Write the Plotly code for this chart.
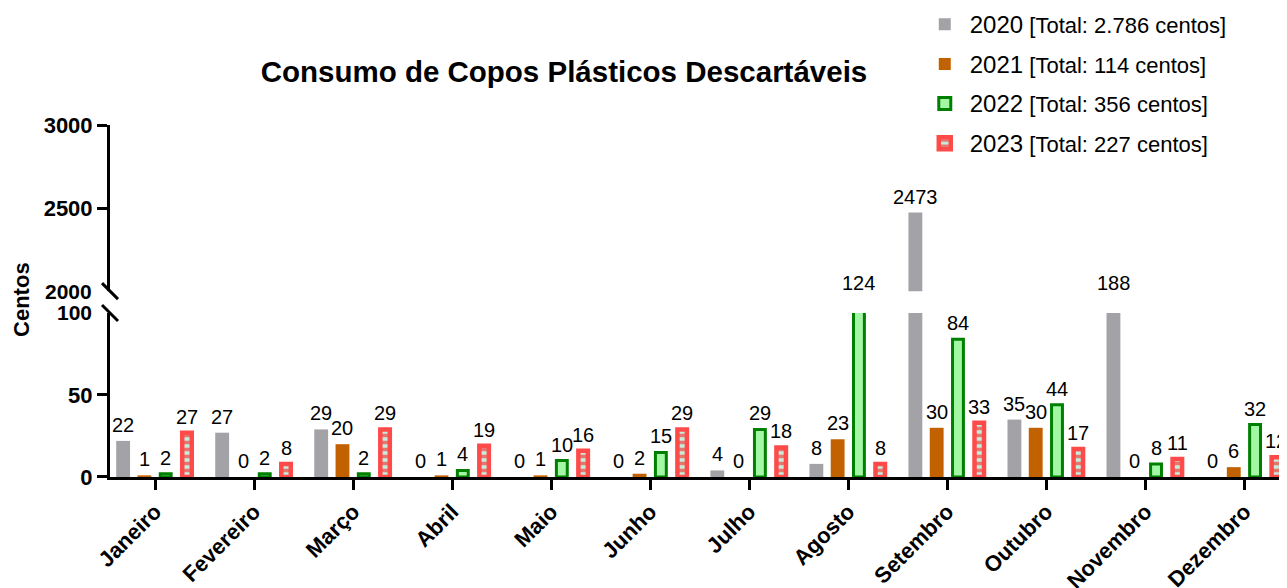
import plotly.graph_objects as go

months = ["Janeiro", "Fevereiro", "Março", "Abril", "Maio", "Junho",
          "Julho", "Agosto", "Setembro", "Outubro", "Novembro", "Dezembro"]
years = ["2020", "2021", "2022", "2023"]
v2020 = [22, 27, 29, 0, 0, 0, 4, 8, 2473, 35, 188, 0]
v2021 = [1, 0, 20, 1, 1, 2, 0, 23, 30, 30, 0, 6]
v2022 = [2, 2, 2, 4, 10, 15, 29, 124, 84, 44, 8, 32]
v2023 = [27, 8, 29, 19, 16, 29, 18, 8, 33, 17, 11, 12]
series = [v2020, v2021, v2022, v2023]

# axis break: lower 0-100, upper 2000-3000
LOW_MAX = 100
HIGH_MIN = 2000

FONT = "Arial, Liberation Sans, sans-serif"
styles = [
    dict(color="#A3A2A7", line=dict(width=0)),
    dict(color="#C26100", line=dict(width=0)),
    dict(color="#A4F7A4", line=dict(color="#008000", width=3)),
    dict(color="#FF4A4A", line=dict(color="#FF4A4A", width=4.5),
         pattern=dict(shape="-", fgcolor="#FF0000", bgcolor="#C4EEDD",
                      size=7, solidity=0.5)),
]
widths = [0.14, 0.14, 0.11, 0.096]
slot = 0.215

x = list(range(len(months)))
fig = go.Figure()
annotations = []
for k, (yr, vals) in enumerate(zip(years, series)):
    total = f"{sum(vals):,}".replace(",", ".")
    name = (f"<span style='font-size:24px'>{yr}</span> "
            f"[Total: {total} centos]")
    off = (k - 1.5) * slot - widths[k] / 2
    for yax, show in (("y", True), ("y2", False)):
        fig.add_trace(go.Bar(
            x=x, y=vals, name=name, xaxis="x", yaxis=yax,
            offset=off, width=widths[k], marker=styles[k],
            showlegend=show, legendgroup=yr, hoverinfo="skip",
        ))
    for i, v in enumerate(vals):
        xc = i + (k - 1.5) * slot
        if v <= LOW_MAX:
            yref, yv, shift = "y", v, 3
        elif v < HIGH_MIN:
            yref, yv, shift = "y", LOW_MAX, 17
        else:
            yref, yv, shift = "y2", v, 3
        annotations.append(dict(
            x=xc, y=yv, xref="x", yref=yref, text=str(v), showarrow=False,
            yanchor="bottom", yshift=shift, font=dict(size=20, color="black"),
        ))

low_top = 0.466
high_bot = 0.528

# break labels and y title
for yv, txt in ((low_top, "100"), (high_bot, "2000")):
    annotations.append(dict(
        x=0, y=yv, xref="paper", yref="paper", text=f"<b>{txt}</b>",
        showarrow=False, xanchor="right", yanchor="middle", xshift=-17,
        font=dict(size=21, color="black"), borderpad=0,
    ))
annotations.append(dict(
    x=0, y=0.503, xref="paper", yref="paper", text="<b>Centos</b>",
    showarrow=False, textangle=-90, xanchor="center", yanchor="middle",
    xshift=-88, font=dict(size=22, color="black"),
))

shapes = []
for yv in (low_top, high_bot):
    shapes.append(dict(
        type="line", xref="paper", yref="paper", xsizemode="pixel",
        ysizemode="pixel", xanchor=0, yanchor=yv,
        x0=-8, y0=8, x1=8, y1=-8, line=dict(color="black", width=3),
    ))

axis_common = dict(
    showline=True, linewidth=3, linecolor="black", showgrid=False,
    zeroline=False, ticks="outside", ticklen=10, tickwidth=3,
    tickcolor="black", tickfont=dict(size=22, color="black", family=FONT,
                                     weight="bold"),
)

# the page body adds an 8px margin, so the figure is 8px smaller
fig.update_layout(
    width=1279, height=580,
    margin=dict(l=102, r=0, t=117, b=111, autoexpand=False),
    paper_bgcolor="white", plot_bgcolor="white",
    font=dict(family=FONT, color="black"),
    barmode="overlay",
    title=dict(text="<b>Consumo de Copos Plásticos Descartáveis</b>",
               xref="container", yref="container", x=0.4347, y=0.8897,
               xanchor="center", yanchor="middle",
               font=dict(size=29.5, color="black")),
    xaxis=dict(axis_common, range=[-0.455, 11.43], tickvals=x,
               ticktext=[f"<b>{m}</b>" for m in months], tickangle=-45,
               anchor="y", tickfont=dict(size=22, color="black",
                                         family=FONT)),
    yaxis=dict(axis_common, domain=[0, low_top], range=[0, LOW_MAX],
               tickvals=[0, 50], anchor="x"),
    yaxis2=dict(axis_common, domain=[high_bot, 1], range=[HIGH_MIN, 3000],
                tickvals=[2500, 3000], anchor="x"),
    legend=dict(x=0.688, y=1.345, xanchor="left", yanchor="top",
                font=dict(size=22, color="black"), tracegroupgap=8,
                bgcolor="rgba(0,0,0,0)", itemwidth=40),
    annotations=annotations,
    shapes=shapes,
)

fig.write_html("out.html")
